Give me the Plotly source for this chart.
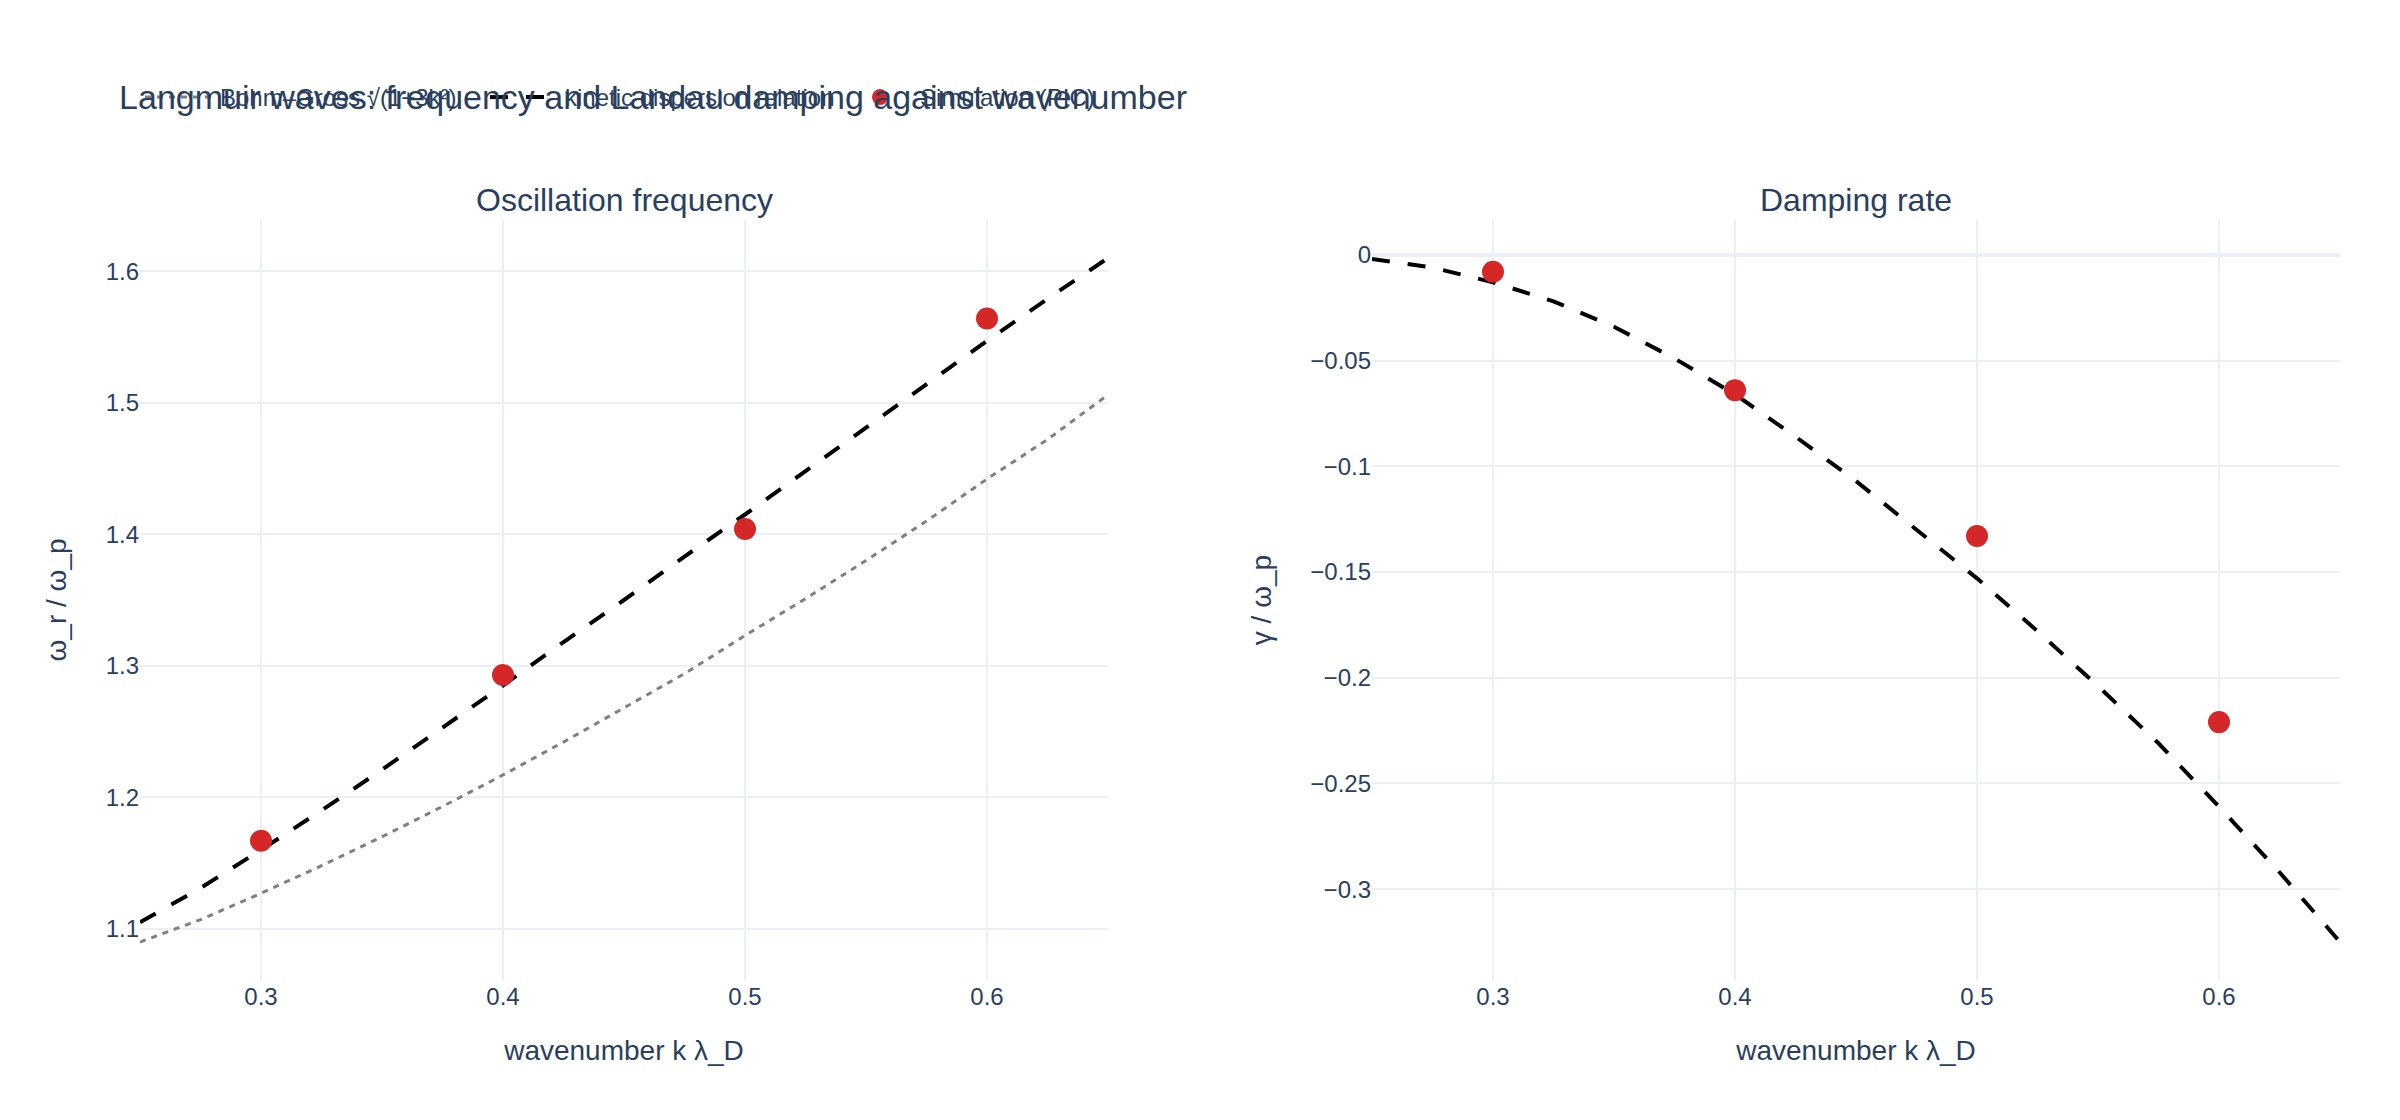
import plotly.graph_objects as go
from plotly.subplots import make_subplots

# k lambda_D grid for the theory curves
k_theory = [0.25, 0.275, 0.30, 0.325, 0.35, 0.375, 0.40, 0.425, 0.45,
            0.475, 0.50, 0.525, 0.55, 0.575, 0.60, 0.625, 0.65]
# Bohm-Gross fluid frequency
omega_bg = [1.090, 1.107, 1.127, 1.148, 1.170, 1.193, 1.217, 1.242, 1.268,
            1.294, 1.323, 1.351, 1.380, 1.410, 1.442, 1.472, 1.506]
# kinetic dispersion relation: real frequency and damping
omega_kin = [1.105, 1.131, 1.160, 1.190, 1.221, 1.253, 1.285, 1.318, 1.350,
             1.383, 1.415, 1.448, 1.481, 1.514, 1.547, 1.579, 1.610]
gamma_kin = [-0.002, -0.006, -0.013, -0.022, -0.034, -0.049, -0.066, -0.086, -0.107,
             -0.130, -0.153, -0.178, -0.204, -0.231, -0.261, -0.292, -0.325]

# simulation points
k_sim = [0.3, 0.4, 0.5, 0.6]
omega_sim = [1.167, 1.293, 1.404, 1.564]
gamma_sim = [-0.008, -0.064, -0.133, -0.221]

fig = make_subplots(rows=1, cols=2, horizontal_spacing=0.12,
                    subplot_titles=("Oscillation frequency", "Damping rate"))

fig.add_trace(go.Scatter(x=k_theory, y=omega_bg, mode="lines",
                         name="Bohm–Gross √(1+3k²)", legendwidth=260,
                         line=dict(color="gray", width=3, dash="6px,6px")),
              row=1, col=1)
fig.add_trace(go.Scatter(x=k_theory, y=omega_kin, mode="lines",
                         name="kinetic dispersion relation", legendgroup="kin",
                         legendwidth=270,
                         line=dict(color="black", width=4, dash="18px,18px")),
              row=1, col=1)
fig.add_trace(go.Scatter(x=k_sim, y=omega_sim, mode="markers",
                         name="Simulation (PIC)", legendgroup="sim",
                         marker=dict(color="#d62728", size=22)),
              row=1, col=1)
fig.add_trace(go.Scatter(x=k_theory, y=gamma_kin, mode="lines",
                         name="kinetic dispersion relation", legendgroup="kin",
                         showlegend=False,
                         line=dict(color="black", width=4, dash="18px,18px")),
              row=1, col=2)
fig.add_trace(go.Scatter(x=k_sim, y=gamma_sim, mode="markers",
                         name="Simulation (PIC)", legendgroup="sim",
                         showlegend=False,
                         marker=dict(color="#d62728", size=22)),
              row=1, col=2)

fig.update_xaxes(title_text="wavenumber k λ_D", range=[0.25, 0.65],
                 dtick=0.1, tickfont_size=24, title_font_size=28,
                 title_standoff=31, gridwidth=2, automargin=False)
fig.update_yaxes(tickfont_size=24, title_font_size=28, title_standoff=30,
                 gridwidth=2, zerolinewidth=4, automargin=False)
fig.update_yaxes(title_text="ω_r / ω_p", row=1, col=1)
fig.update_yaxes(title_text="γ / ω_p", row=1, col=2)
fig.update_annotations(font_size=32)

fig.update_layout(
    template="plotly_white",
    font=dict(family="Liberation Sans, Arial, sans-serif", size=24),
    title=dict(text="Langmuir waves: frequency and Landau damping against wavenumber",
               font_size=34, x=0.0466, y=0.9196, yanchor="middle"),
    legend=dict(orientation="h", x=0, y=1.1316, yanchor="bottom",
                font_size=24, itemwidth=70),
    margin=dict(l=132, r=52, t=212, b=132),
)

fig.write_html("out.html")
